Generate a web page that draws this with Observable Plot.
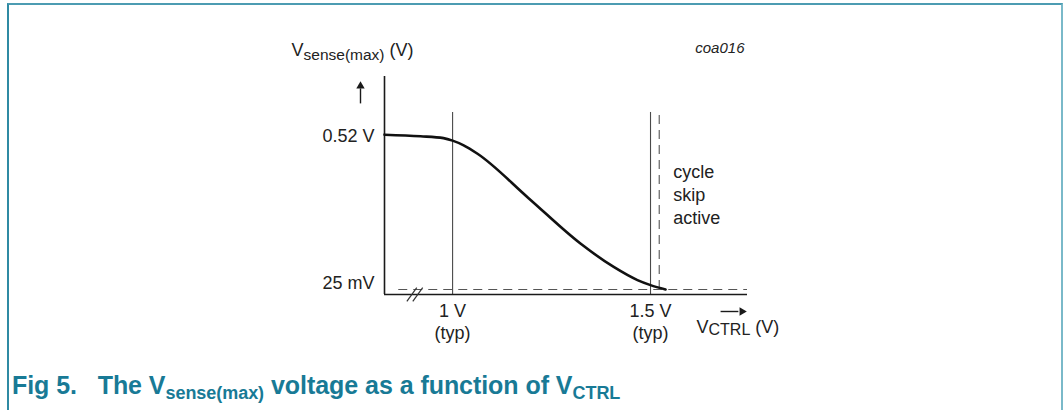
<!DOCTYPE html>
<html><head><meta charset="utf-8">
<script src="https://cdn.jsdelivr.net/npm/d3@7"></script>
<script src="https://cdn.jsdelivr.net/npm/@observablehq/plot@0.6"></script>
<style>
html,body{margin:0;padding:0;background:#fff;width:1063px;height:410px;overflow:hidden;}
#frame{position:absolute;left:7px;top:3px;width:1056px;height:460px;border-left:2px solid #2f8aa3;border-top:2px solid #4c9cb2;border-right:2px solid #7ab9c9;box-sizing:border-box;pointer-events:none;}
#chart{position:absolute;left:0;top:0;}
#caption{position:absolute;left:12px;top:373px;font:bold 25px "Liberation Sans",Arial,sans-serif;color:#187a96;white-space:pre;line-height:25px;letter-spacing:-0.05px;}
#caption sub{font-size:18px;vertical-align:baseline;position:relative;top:5px;}
</style></head><body>
<div id="chart"></div>
<div id="caption">Fig 5.   The V<sub>sense(max)</sub> voltage as a function of V<sub>CTRL</sub></div>
<div id="frame"></div>
<script>
// ---- data ----
const curveX = [0.828, 0.919, 0.977, 1.000, 1.028, 1.063, 1.192, 1.323, 1.407, 1.467, 1.500, 1.538];
const curveY = [0.520, 0.515, 0.509, 0.501, 0.486, 0.459, 0.317, 0.172, 0.097, 0.055, 0.039, 0.025];
const xMarkers = [1.0, 1.5];
const xMarkerLabels = ["1 V", "1.5 V"];
const typLabel = "(typ)";
const yLevels = [0.52, 0.025];
const yLevelLabels = ["0.52 V", "25 mV"];
const xDomain = [0.828, 1.745];
const yDomain = [0.009, 0.706];
const markerTop = 0.591;
const cycleSkipX = 1.522;
const cycleSkipText = "cycle\nskip\nactive";
const cycleSkipLabelY = 0.331;
const minLevel = 0.025;
const dashStartX = 0.864;
const breakXs = [0.897, 0.912];
const yTitle = "V_{sense(max)} (V)";
const xTitle = "V_{CTRL} (V)";
const figId = "coa016";
const xArrow = [1.677, 1.722, 1.731];
const yArrow = [0.620, 0.668, 0.675];

const [x0, x1] = xDomain, [y0, y1] = yDomain;
const line = curveX.map((x, i) => ({x, y: curveY[i]}));
const font = '"Liberation Sans", Arial, Helvetica, sans-serif';
const ink = "#1a1a1a";

const plot = Plot.plot({
  width: 1063, height: 360,
  marginLeft: 384, marginRight: 316, marginTop: 76, marginBottom: 66,
  x: {domain: xDomain, axis: null},
  y: {domain: yDomain, axis: null},
  style: {fontFamily: font, fontSize: "18px", background: "transparent", color: "#222", overflow: "visible"},
  marks: [
    Plot.ruleX(xMarkers, {y1: y0, y2: markerTop, stroke: "#4a4a4a", strokeWidth: 1.1}),
    Plot.ruleX([cycleSkipX], {y1: minLevel, y2: markerTop, stroke: "#555", strokeWidth: 1.1, strokeDasharray: "9,6"}),
    Plot.ruleY([minLevel], {x1: dashStartX, x2: x1, stroke: "#555", strokeWidth: 1.1, strokeDasharray: "9,6"}),
    Plot.ruleX([x0], {y1: y0, y2: y1, stroke: ink, strokeWidth: 1.6}),
    Plot.ruleY([y0], {x1: x0, x2: x1, stroke: ink, strokeWidth: 1.6}),
    Plot.link(breakXs, {x1: d => d - 0.0125, x2: d => d + 0.0125, y1: y0 - 0.022, y2: y0 + 0.022, stroke: "#333", strokeWidth: 1.2}),
    Plot.line(line, {x: "x", y: "y", curve: "monotone-x", stroke: "#111", strokeWidth: 2.6}),
    // y level labels
    Plot.text([yLevelLabels[0]], {x: x0, y: yLevels[0], text: d => d, textAnchor: "end", dx: -10, dy: 1.5, fill: "#222"}),
    Plot.text([yLevelLabels[1]], {x: x0, y: yLevels[1], text: d => d, textAnchor: "end", dx: -10, dy: -6, fill: "#222"}),
    // x marker labels
    Plot.text(xMarkerLabels, {x: (d, i) => xMarkers[i], y: y0, text: d => d, dy: 17, fill: "#222"}),
    Plot.text(xMarkers, {x: d => d, y: y0, text: () => typLabel, dy: 39, fill: "#222"}),
    // cycle skip
    Plot.text([cycleSkipText], {x: cycleSkipX, y: cycleSkipLabelY, text: d => d, textAnchor: "start", dx: 14, lineHeight: 1.28, fill: "#222"}),
    // titles
    Plot.text([yTitle], {x: x0, y: y1, text: d => d, textAnchor: "start", dx: -93, dy: -26, fill: "#222"}),
    Plot.text([xTitle], {x: x1, y: y0, text: d => d, textAnchor: "start", dx: -51, dy: 33, fill: "#222"}),
    Plot.text([figId], {x: x1, y: y1, text: d => d, textAnchor: "end", dx: -3, dy: -28, fontSize: 15, fontStyle: "italic", fill: "#222"}),
    // arrows
    Plot.link([0], {x1: xArrow[0], x2: xArrow[1], y1: y0, y2: y0, dy: 17, stroke: ink, strokeWidth: 1.4}),
    Plot.dot([0], {x: xArrow[2], y: y0, dy: 17, symbol: "triangle2", r: 4, rotate: 90, fill: ink, stroke: "none"}),
    Plot.link([0], {x1: x0, x2: x0, y1: yArrow[0], y2: yArrow[1], dx: -24, stroke: ink, strokeWidth: 1.4}),
    Plot.dot([0], {x: x0, y: yArrow[2], dx: -24, symbol: "triangle2", r: 4, fill: ink, stroke: "none"})
  ]
});

// subscripts
d3.select(plot).selectAll("text").each(function() {
  const s = this.textContent;
  const m = s.match(/^(.*?)_\{(.*?)\}(.*)$/);
  if (!m) return;
  const t = d3.select(this);
  const isY = m[2].startsWith("sense");
  const sub = isY ? 15.5 : 16;
  const drop = isY ? 4 : 2;
  t.text(null);
  t.append("tspan").text(m[1]);
  t.append("tspan").attr("font-size", sub).attr("dy", drop).text(m[2]);
  t.append("tspan").attr("dy", -drop).text(m[3]);
});

document.getElementById("chart").appendChild(plot);
</script>
</body></html>
